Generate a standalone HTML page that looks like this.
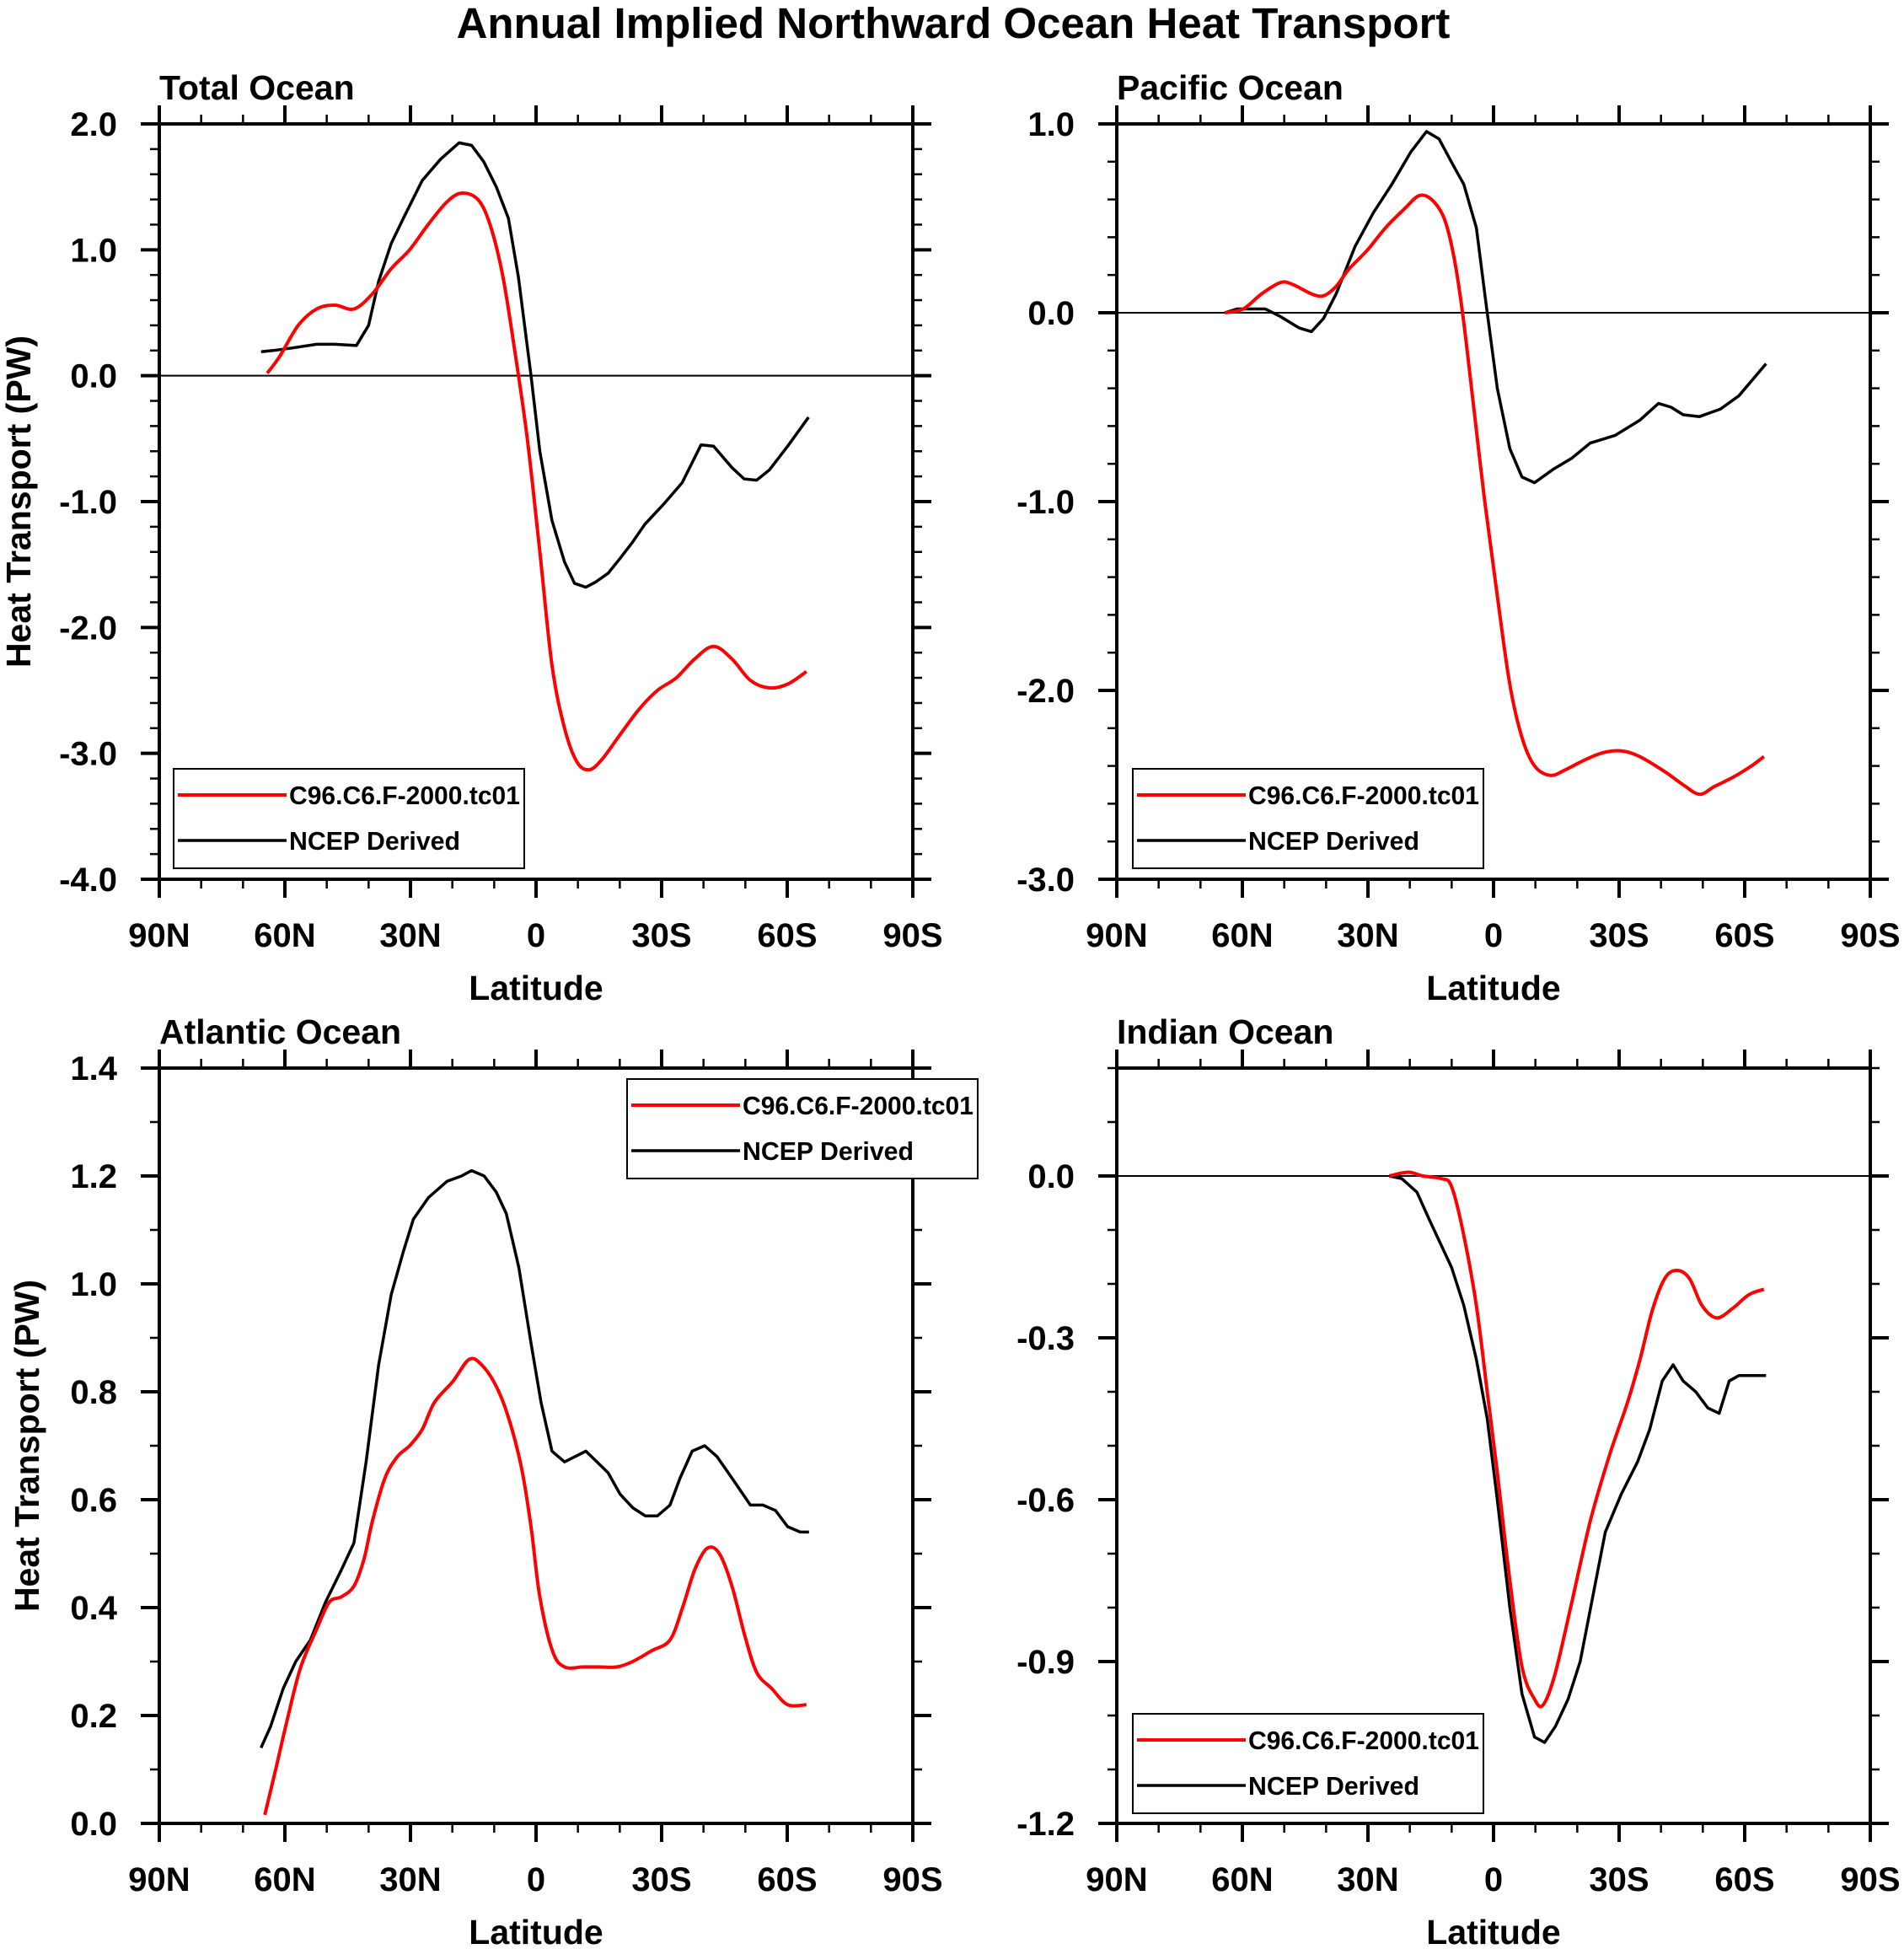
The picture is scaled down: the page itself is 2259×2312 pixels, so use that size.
<!DOCTYPE html>
<html><head><meta charset="utf-8"><style>
html,body{margin:0;padding:0;background:#fff}
svg{display:block}
text{font-family:"Liberation Sans",sans-serif;font-weight:bold;fill:#000}
</style></head><body>
<svg id="c" width="2259" height="2312" viewBox="0 0 2259 2312" xmlns="http://www.w3.org/2000/svg">
<text x="1131" y="45" font-size="51" text-anchor="middle">Annual Implied Northward Ocean Heat Transport</text>
</svg>
<script>
// ---- data (latitude: +N, -S) ----
const totRedLat=[64.2,61.3,56.8,52.4,48,43.5,39.1,34.6,30.2,25.8,21.3,17.8,13.9,11,8,5.1,2.1,-0.9,-3.8,-6.8,-9.8,-12.7,-15.7,-20.1,-24.6,-29,-33.5,-37.9,-42.4,-46.8,-51.2,-55.7,-60.1,-64.6];
const totRedVal=[0.02,0.15,0.4,0.53,0.56,0.53,0.65,0.85,1.0,1.2,1.38,1.45,1.4,1.2,0.8,0.2,-0.5,-1.4,-2.3,-2.8,-3.07,-3.13,-3.05,-2.85,-2.65,-2.5,-2.4,-2.25,-2.15,-2.25,-2.42,-2.48,-2.45,-2.35];
const totBlkLat=[65.7,62.8,58.3,52.4,48,42.9,40,37.6,34.6,31.7,27.2,22.8,18.4,15.4,12.5,9.5,6.6,4.2,1.2,-0.9,-3.8,-6.8,-9.2,-11.9,-14.2,-17.2,-20.1,-23.1,-26,-30.5,-34.9,-39.4,-42.4,-46.8,-49.7,-52.7,-55.7,-60.1,-65.1];
const totBlkVal=[0.19,0.2,0.22,0.25,0.25,0.24,0.4,0.75,1.05,1.25,1.55,1.72,1.85,1.83,1.7,1.5,1.25,0.78,0.0,-0.6,-1.15,-1.48,-1.65,-1.68,-1.64,-1.57,-1.45,-1.32,-1.18,-1.02,-0.85,-0.55,-0.56,-0.73,-0.82,-0.83,-0.75,-0.56,-0.33];
const pacRedLat=[64.2,59.8,55.4,50.9,48,43.5,40.6,37.6,34.6,30.2,25.8,21.3,17.8,14.8,11.8,9.5,7.4,5,2.1,-0.9,-3.9,-6.8,-9.8,-13.6,-17.2,-21.6,-26.1,-30.5,-34.9,-40.9,-45.3,-49.2,-52.7,-57.2,-61.6,-64.6];
const pacRedVal=[0.0,0.02,0.1,0.16,0.15,0.1,0.09,0.14,0.23,0.33,0.45,0.55,0.62,0.6,0.5,0.3,0.0,-0.45,-1.0,-1.5,-1.97,-2.25,-2.4,-2.45,-2.42,-2.37,-2.33,-2.32,-2.35,-2.43,-2.5,-2.55,-2.51,-2.46,-2.4,-2.35];
const pacBlkLat=[64.2,61.3,54.5,50.9,46.5,43.5,40.6,37.6,33.1,28.7,24.3,19.8,16,13,10.1,7.1,4.1,1.8,-0.9,-3.9,-6.8,-9.8,-14.2,-18.7,-23.1,-29,-34.9,-39.4,-42.4,-45.3,-49.2,-54.2,-58.6,-65.1];
const pacBlkVal=[0.0,0.02,0.02,-0.02,-0.08,-0.1,-0.03,0.1,0.35,0.53,0.68,0.85,0.96,0.92,0.8,0.68,0.45,0.05,-0.4,-0.72,-0.87,-0.9,-0.83,-0.77,-0.69,-0.65,-0.57,-0.48,-0.5,-0.54,-0.55,-0.51,-0.44,-0.27];
const atlRedLat=[64.8,62.2,59.2,56.2,52.4,49.4,46.5,43.5,41.1,39.1,36.1,33.1,30.2,27.2,24.3,19.8,16,13,9.5,6.5,3.5,1.2,-0.9,-3.9,-6.8,-11.3,-14.8,-19.3,-23.1,-27.6,-32,-35,-37.9,-40.9,-43.8,-46.8,-49.8,-52.7,-56.3,-60.1,-64.6];
const atlRedVal=[0.016,0.1,0.2,0.29,0.36,0.41,0.42,0.44,0.49,0.56,0.64,0.68,0.70,0.73,0.78,0.82,0.86,0.85,0.81,0.75,0.66,0.55,0.42,0.32,0.29,0.29,0.29,0.29,0.30,0.32,0.34,0.40,0.47,0.51,0.50,0.44,0.35,0.28,0.25,0.22,0.22];
const atlBlkLat=[65.7,63.4,60.4,57.4,53.9,50.3,46.5,43.5,40.6,37.6,34.6,31.7,29.3,25.7,21.3,17.8,15.4,12.4,9.5,7.1,4.1,1.2,-1.2,-3.8,-6.8,-11.9,-17.2,-20.1,-23.1,-26.1,-29,-32,-34.4,-37.3,-40.3,-43.2,-46.8,-51.2,-54.2,-57.2,-60.1,-63.1,-65.2];
const atlBlkVal=[0.14,0.18,0.25,0.3,0.34,0.41,0.47,0.52,0.67,0.85,0.98,1.06,1.12,1.16,1.19,1.2,1.21,1.2,1.17,1.13,1.03,0.89,0.78,0.69,0.67,0.69,0.65,0.61,0.585,0.57,0.57,0.59,0.64,0.69,0.70,0.68,0.64,0.59,0.59,0.58,0.55,0.54,0.54];
const indRedLat=[24.9,20.4,16.9,12.4,10,7.1,4.1,1.5,-0.9,-3.9,-6.8,-9.8,-11.9,-14.8,-18.7,-23.1,-27.6,-32,-35,-37.9,-40.9,-43.8,-46.8,-49.8,-53.3,-57.2,-61,-64.6];
const indRedVal=[0.0,0.007,0.0,-0.005,-0.02,-0.11,-0.24,-0.40,-0.55,-0.75,-0.91,-0.97,-0.98,-0.92,-0.79,-0.64,-0.52,-0.42,-0.34,-0.25,-0.19,-0.175,-0.19,-0.24,-0.263,-0.245,-0.22,-0.21];
const indBlkLat=[24.9,21.9,18.3,15.4,13,10,7.1,4.1,1.5,-0.9,-3.9,-6.8,-9.8,-12.2,-14.8,-17.8,-20.7,-23.7,-26.7,-30.5,-34.4,-37.3,-40.3,-42.9,-45.3,-48.3,-51.2,-53.9,-56.3,-58.6,-65.1];
const indBlkVal=[0.0,-0.005,-0.03,-0.08,-0.12,-0.17,-0.24,-0.34,-0.45,-0.6,-0.8,-0.96,-1.04,-1.05,-1.02,-0.97,-0.9,-0.78,-0.66,-0.59,-0.53,-0.47,-0.38,-0.35,-0.38,-0.40,-0.43,-0.44,-0.38,-0.37,-0.37];
const xTickLabels=["90N","60N","30N","0","30S","60S","90S"];
const totYLabels=["2.0","1.0","0.0","-1.0","-2.0","-3.0","-4.0"];
const pacYLabels=["1.0","0.0","-1.0","-2.0","-3.0"];
const atlYLabels=["0.0","0.2","0.4","0.6","0.8","1.0","1.2","1.4"];
const indYLabels=["0.0","-0.3","-0.6","-0.9","-1.2"];
const seriesNames=["C96.C6.F-2000.tc01","NCEP Derived"];

const NS="http://www.w3.org/2000/svg";
const svg=document.getElementById('c');
function mk(tag,attrs,parent){const e=document.createElementNS(NS,tag);for(const k in attrs)e.setAttribute(k,attrs[k]);(parent||svg).appendChild(e);return e;}

const W=894,H=896;
function smoothPath(pts){
  let d="M"+pts[0][0].toFixed(1)+","+pts[0][1].toFixed(1);
  for(let i=0;i<pts.length-1;i++){
    const p0=pts[Math.max(0,i-1)],p1=pts[i],p2=pts[i+1],p3=pts[Math.min(pts.length-1,i+2)];
    const c1=[p1[0]+(p2[0]-p0[0])/6,p1[1]+(p2[1]-p0[1])/6],c2=[p2[0]-(p3[0]-p1[0])/6,p2[1]-(p3[1]-p1[1])/6];
    d+=" C"+c1[0].toFixed(1)+","+c1[1].toFixed(1)+" "+c2[0].toFixed(1)+","+c2[1].toFixed(1)+" "+p2[0].toFixed(1)+","+p2[1].toFixed(1);
  }
  return d;
}
function panel(o){
  const g=mk('g',{});
  
  
  const L=o.x,T=o.y,R=L+W,B=T+H;
  const xs=lat=>L+(90-lat)/180*W;
  const ys=v=>T+(o.ymax-v)/(o.ymax-o.ymin)*H;
  const t=mk('text',{x:L,y:T-29,'font-size':41},g);t.textContent=o.title;
  
  for(let lat=90;lat>=-90;lat-=10){
    const x=xs(lat),maj=(lat%30===0),len=maj?22:11;
    mk('line',{x1:x,y1:B,x2:x,y2:B+len,stroke:'#000','stroke-width':maj?4:2.5},g);
    mk('line',{x1:x,y1:T,x2:x,y2:T-len,stroke:'#000','stroke-width':maj?4:2.5},g);
  }
  const nMin=Math.round((o.ymax-o.ymin)/o.minor);
  for(let i=0;i<=nMin;i++){
    const v=o.ymin+i*o.minor,y=ys(v);
    const maj=Math.abs(Math.round(v/o.major)*o.major-v)<1e-6,len=maj?22:11;
    mk('line',{x1:L,y1:y,x2:L-len,y2:y,stroke:'#000','stroke-width':maj?4:2.5},g);
    mk('line',{x1:R,y1:y,x2:R+len,y2:y,stroke:'#000','stroke-width':maj?4:2.5},g);
  }
  if(o.ymin<0&&o.ymax>0) mk('line',{x1:L,y1:ys(0),x2:R,y2:ys(0),stroke:'#000','stroke-width':2},g);
  const f=mk('rect',{x:L,y:T,width:W,height:H,fill:'none',stroke:'#000','stroke-width':4},g);
  
  xTickLabels.forEach((s,i)=>{const tt=mk('text',{x:L+i*W/6,y:B+80,'font-size':40,'text-anchor':'middle'},g);tt.textContent=s;
    });
  const xl=mk('text',{x:L+W/2,y:B+143,'font-size':41,'text-anchor':'middle'},g);xl.textContent="Latitude";
  
  o.ylabels.forEach(s=>{const v=parseFloat(s);const tt=mk('text',{x:L-50,y:ys(v)+14,'font-size':40,'text-anchor':'end'},g);tt.textContent=s;
    });
  if(o.ytitle){const yt=mk('text',{x:0,y:0,'font-size':41,'text-anchor':'middle',transform:`translate(${o.ytx},${T+H/2}) rotate(-90)`},g);yt.textContent="Heat Transport (PW)";
    }
  const bp=o.blkLat.map((la,i)=>[xs(la),ys(o.blkVal[i])]);
  const bl=mk('polyline',{points:bp.map(p=>p.join(',')).join(' '),fill:'none',stroke:'#000','stroke-width':3.5,'stroke-linejoin':'round'},g);
  
  const rp=o.redLat.map((la,i)=>[xs(la),ys(o.redVal[i])]);
  const rl=mk('path',{d:smoothPath(rp),fill:'none',stroke:'#ff0000','stroke-width':4,'stroke-linejoin':'round'},g);
  
  const lg=mk('g',{},g);
  
  const lx=o.lx,ly=o.ly;
  mk('rect',{x:lx,y:ly,width:416,height:118,fill:'#fff',stroke:'#000','stroke-width':2},lg);
  mk('line',{x1:lx+5,y1:ly+31,x2:lx+134,y2:ly+31,stroke:'#ff0000','stroke-width':4},lg);
  mk('line',{x1:lx+5,y1:ly+85,x2:lx+134,y2:ly+85,stroke:'#000','stroke-width':3.5},lg);
  const a=mk('text',{x:lx+137,y:ly+42,'font-size':31,textLength:274,lengthAdjust:'spacingAndGlyphs'},lg);a.textContent=seriesNames[0];
  
  const b=mk('text',{x:lx+137,y:ly+96,'font-size':31,textLength:203,lengthAdjust:'spacingAndGlyphs'},lg);b.textContent=seriesNames[1];
  
}
panel({name:'total-ocean-panel',title:'Total Ocean',x:189,y:147,ymin:-4,ymax:2,major:1,minor:0.2,ylabels:totYLabels,ytitle:true,ytx:36,
  redLat:totRedLat,redVal:totRedVal,blkLat:totBlkLat,blkVal:totBlkVal,lx:206,ly:912});
panel({name:'pacific-ocean-panel',title:'Pacific Ocean',x:1325,y:147,ymin:-3,ymax:1,major:1,minor:0.2,ylabels:pacYLabels,ytitle:false,
  redLat:pacRedLat,redVal:pacRedVal,blkLat:pacBlkLat,blkVal:pacBlkVal,lx:1344,ly:912});
panel({name:'atlantic-ocean-panel',title:'Atlantic Ocean',x:189,y:1267,ymin:0,ymax:1.4,major:0.2,minor:0.1,ylabels:atlYLabels,ytitle:true,ytx:46,
  redLat:atlRedLat,redVal:atlRedVal,blkLat:atlBlkLat,blkVal:atlBlkVal,lx:744,ly:1280});
panel({name:'indian-ocean-panel',title:'Indian Ocean',x:1325,y:1267,ymin:-1.2,ymax:0.2,major:0.3,minor:0.1,ylabels:indYLabels,ytitle:false,
  redLat:indRedLat,redVal:indRedVal,blkLat:indBlkLat,blkVal:indBlkVal,lx:1344,ly:2033});
</script>
</body></html>
